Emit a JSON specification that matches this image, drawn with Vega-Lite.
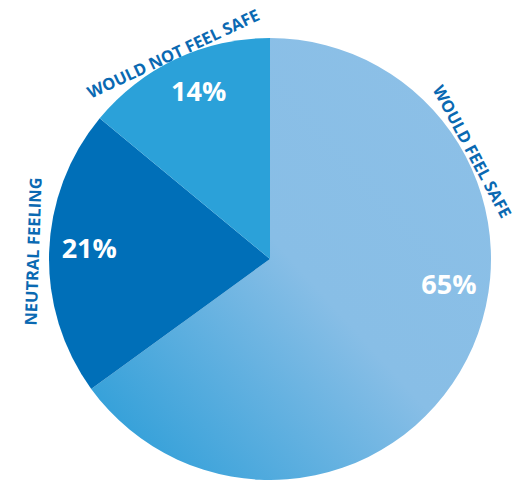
{
  "$schema": "https://vega.github.io/schema/vega-lite/v6.json",
  "width": 496,
  "height": 442,
  "autosize": "none",
  "padding": {"left": 22, "top": 38, "right": 0, "bottom": 0},
  "background": "white",
  "config": {"view": {"stroke": null}},
  "data": {
    "values": [
      {"label": "WOULD FEEL SAFE", "share": 0.65, "rank": 1},
      {"label": "NEUTRAL FEELING", "share": 0.21, "rank": 2},
      {"label": "WOULD NOT FEEL SAFE", "share": 0.14, "rank": 3}
    ]
  },
  "encoding": {
    "theta": {"field": "share", "type": "quantitative", "stack": true},
    "order": {"field": "rank", "type": "quantitative"}
  },
  "layer": [
    {
      "mark": {"type": "arc"},
      "encoding": {
        "color": {
          "condition": {
            "test": "datum.rank == 1",
            "value": {
              "gradient": "linear",
              "x1": 1, "y1": 0, "x2": 0, "y2": 1,
              "stops": [
                {"offset": 0, "color": "#8dc0e7"},
                {"offset": 0.5, "color": "#88bee6"},
                {"offset": 0.92, "color": "#33a0d9"}
              ]
            }
          },
          "field": "label",
          "type": "nominal",
          "scale": {
            "domain": ["WOULD FEEL SAFE", "NEUTRAL FEELING", "WOULD NOT FEEL SAFE"],
            "range": ["#8dc0e7", "#006fb8", "#2ba1d9"]
          },
          "legend": null
        }
      }
    },
    {
      "mark": {
        "type": "text",
        "radius": 181,
        "font": "Open Sans",
        "fontWeight": "bold",
        "fontSize": 27,
        "color": "white",
        "align": "center",
        "baseline": "middle",
        "thetaOffset": {"expr": "datum.rank == 1 ? -0.32 : datum.rank == 3 ? 0.035 : 0.02"}
      },
      "encoding": {
        "text": {"field": "share", "type": "quantitative", "format": ".0%"}
      }
    },
    {
      "mark": {
        "type": "text",
        "radius": {"expr": "datum.rank == 1 ? 228 : datum.rank == 2 ? 236 : 226"},
        "font": "Open Sans",
        "fontWeight": "bold",
        "fontSize": 16.5,
        "color": "#0a69b2",
        "align": "center",
        "baseline": "middle",
        "angle": {"expr": "datum.rank == 1 ? 62 : datum.rank == 2 ? 272 : 335"},
        "thetaOffset": {"expr": "datum.rank == 1 ? -0.96 : 0"}
      },
      "encoding": {
        "text": {"field": "label", "type": "nominal"}
      }
    }
  ]
}
